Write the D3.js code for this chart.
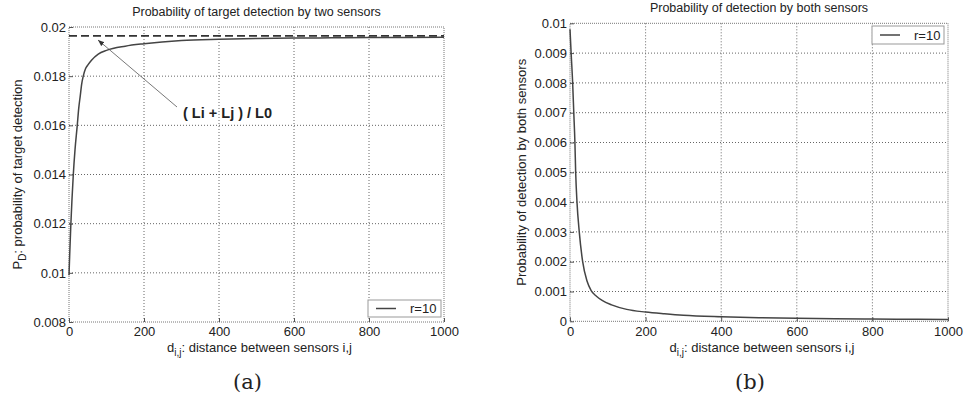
<!DOCTYPE html>
<html><head><meta charset="utf-8">
<script src="https://cdn.jsdelivr.net/npm/d3@7/dist/d3.min.js"></script>
<style>body{margin:0;background:#fff}svg{display:block}</style>
</head><body><svg id="c" width="967" height="407"></svg>
<script>
// ---- data ----
const xTicks = [0, 200, 400, 600, 800, 1000];
const leftYTicks = [0.008, 0.010, 0.012, 0.014, 0.016, 0.018, 0.020];
const leftYTickLabels = ["0.008", "0.01", "0.012", "0.014", "0.016", "0.018", "0.02"];
const rightYTicks = [0, 0.001, 0.002, 0.003, 0.004, 0.005, 0.006, 0.007, 0.008, 0.009, 0.010];
const rightYTickLabels = ["0", "0.001", "0.002", "0.003", "0.004", "0.005", "0.006", "0.007", "0.008", "0.009", "0.01"];

const leftD = [0, 2, 5, 8, 11.5, 16, 22, 26, 30, 34, 38, 44, 50, 60, 78, 100, 150, 200, 300, 400, 500, 600, 700, 800, 900, 1000];
const leftP = [0.0099, 0.0108, 0.0120, 0.0130, 0.0140, 0.0150, 0.0160, 0.0167, 0.0172, 0.0177, 0.0180, 0.0183, 0.01845, 0.01865, 0.0189, 0.01905, 0.01922, 0.01932, 0.01945, 0.0195, 0.01953, 0.01955, 0.01956, 0.01957, 0.01957, 0.01958];
const leftLimit = 0.01964; // (Li + Lj) / L0

const rightD = [0, 3, 7, 10, 13, 15, 18.5, 24.5, 33.5, 45, 56, 70, 85, 110, 150, 200, 250, 300, 400, 500, 600, 700, 800, 900, 1000];
const rightP = [0.0098, 0.009, 0.008, 0.007, 0.006, 0.005, 0.004, 0.003, 0.002, 0.00135, 0.00103, 0.00084, 0.0007, 0.00055, 0.0004, 0.00031, 0.00025, 0.0002, 0.00015, 0.00012, 0.0001, 0.000085, 0.000075, 0.000067, 0.00006];

const legendLabel = "r=10";

// ---- drawing ----
const svg = d3.select("#c");
const FONT = "'Liberation Sans', Arial, Helvetica, sans-serif";
const TXT = "#222";

function panel(o) {
  const x = d3.scaleLinear().domain([0, 1000]).range([o.x0, o.x1]);
  const y = d3.scaleLinear().domain(o.ydom).range([o.y1, o.y0]);
  const g = svg.append("g");
  // grid
  g.selectAll(".gx").data(xTicks.slice(1, -1)).join("line")
    .attr("x1", d => x(d)).attr("x2", d => x(d)).attr("y1", o.y0).attr("y2", o.y1)
    .attr("stroke", "#666").attr("stroke-width", 1).attr("stroke-dasharray", "1,2");
  g.selectAll(".gy").data(o.yticks.slice(1, -1)).join("line")
    .attr("x1", o.x0).attr("x2", o.x1).attr("y1", d => y(d)).attr("y2", d => y(d))
    .attr("stroke", "#666").attr("stroke-width", 1).attr("stroke-dasharray", "1,2");
  // frame
  g.append("rect").attr("x", o.x0).attr("y", o.y0).attr("width", o.x1 - o.x0).attr("height", o.y1 - o.y0)
    .attr("fill", "none").attr("stroke", "#777").attr("stroke-width", 1).attr("stroke-dasharray", "1,1");
  // axes
  const ax = g.append("g").attr("transform", `translate(0,${o.y1})`)
    .call(d3.axisBottom(x).tickValues(xTicks).tickSize(-4).tickPadding(5).tickFormat(d3.format("d")));
  const ay = g.append("g").attr("transform", `translate(${o.x0},0)`)
    .call(d3.axisLeft(y).tickValues(o.yticks).tickSize(-4).tickPadding(3).tickFormat((d, i) => o.ylabels[i]));
  [ax, ay].forEach(a => {
    a.select(".domain").remove();
    a.selectAll("line").attr("stroke", "#555");
    a.selectAll("text").attr("font-family", FONT).attr("font-size", 13).attr("fill", TXT);
  });
  // title
  g.append("text").attr("x", (o.x0 + o.x1) / 2).attr("y", o.titleY).attr("text-anchor", "middle")
    .attr("font-family", FONT).attr("font-size", 12.5).attr("fill", TXT).text(o.title);
  // x label with subscript
  const xl = g.append("text").attr("x", (o.x0 + o.x1) / 2 + 3).attr("y", 352).attr("text-anchor", "middle")
    .attr("font-family", FONT).attr("font-size", 13).attr("fill", TXT);
  xl.append("tspan").text("d");
  xl.append("tspan").attr("dy", 4).attr("font-size", 10).text("i,j");
  xl.append("tspan").attr("dy", -4).text(": distance between sensors i,j");
  // y label
  const yl = g.append("text").attr("transform", `translate(${o.ylx},${(o.y0 + o.y1) / 2}) rotate(-90)`)
    .attr("text-anchor", "middle").attr("font-family", FONT).attr("font-size", 13).attr("fill", TXT);
  o.ylabel(yl);
  // caption
  g.append("text").attr("x", (o.x0 + o.x1) / 2 - 9).attr("y", 389).attr("text-anchor", "middle")
    .attr("font-family", "'DejaVu Serif', 'Liberation Serif', serif").attr("font-size", 21).attr("fill", TXT).text(o.caption);
  // line
  const line = d3.line().x(d => x(d[0])).y(d => y(d[1])).curve(d3.curveMonotoneX);
  g.append("path").datum(o.d.map((d, i) => [d, o.p[i]])).attr("d", line)
    .attr("fill", "none").attr("stroke", "#444").attr("stroke-width", 1.5);
  // legend
  const L = o.legend;
  g.append("rect").attr("x", L.x).attr("y", L.y).attr("width", L.w).attr("height", L.h)
    .attr("fill", "#fff").attr("stroke", "#999").attr("stroke-width", 1);
  g.append("line").attr("x1", L.x + 8).attr("x2", L.x + 28).attr("y1", L.y + L.h / 2).attr("y2", L.y + L.h / 2)
    .attr("stroke", "#444").attr("stroke-width", 1.5);
  g.append("text").attr("x", L.x + 42).attr("y", L.y + L.h / 2 + 4.5).attr("font-family", FONT)
    .attr("font-size", 13).attr("fill", TXT).text(legendLabel);
  return {x, y, g};
}

const A = panel({
  x0: 69, x1: 444, y0: 27, y1: 322, ydom: [0.008, 0.020],
  yticks: leftYTicks, ylabels: leftYTickLabels,
  title: "Probability of target detection by two sensors", titleY: 16,
  ylx: 22, caption: "(a)",
  ylabel: t => { t.append("tspan").text("P"); t.append("tspan").attr("dy", 4).attr("font-size", 10).text("D");
                 t.append("tspan").attr("dy", -4).text(": probability of target detection"); },
  d: leftD, p: leftP,
  legend: {x: 368, y: 300, w: 73, h: 17}
});
// dashed limit line
A.g.append("line").attr("x1", A.x(0)).attr("x2", A.x(1000)).attr("y1", A.y(leftLimit)).attr("y2", A.y(leftLimit))
  .attr("stroke", "#333").attr("stroke-width", 1.6).attr("stroke-dasharray", "8,4");
// annotation
svg.append("defs").append("marker").attr("id", "ah").attr("viewBox", "0 0 10 10").attr("refX", 10).attr("refY", 5)
  .attr("markerWidth", 8).attr("markerHeight", 8).attr("orient", "auto")
  .append("path").attr("d", "M0,1 L10,5 L0,9 Z").attr("fill", "#333");
A.g.append("line").attr("x1", 177).attr("y1", 107).attr("x2", 98).attr("y2", 40)
  .attr("stroke", "#555").attr("stroke-width", 0.8).attr("marker-end", "url(#ah)");
A.g.append("text").attr("x", 183).attr("y", 118).attr("font-family", FONT).attr("font-weight", "bold")
  .attr("font-size", 14.5).attr("fill", TXT).text("( Li + Lj ) / L0");

panel({
  x0: 570, x1: 948, y0: 23.3, y1: 321.3, ydom: [0, 0.010],
  yticks: rightYTicks, ylabels: rightYTickLabels,
  title: "Probability of detection by both sensors", titleY: 12,
  ylx: 526, caption: "(b)",
  ylabel: t => t.text("Probability of detection by both sensors"),
  d: rightD, p: rightP,
  legend: {x: 872, y: 26, w: 72, h: 18}
});
</script></body></html>
